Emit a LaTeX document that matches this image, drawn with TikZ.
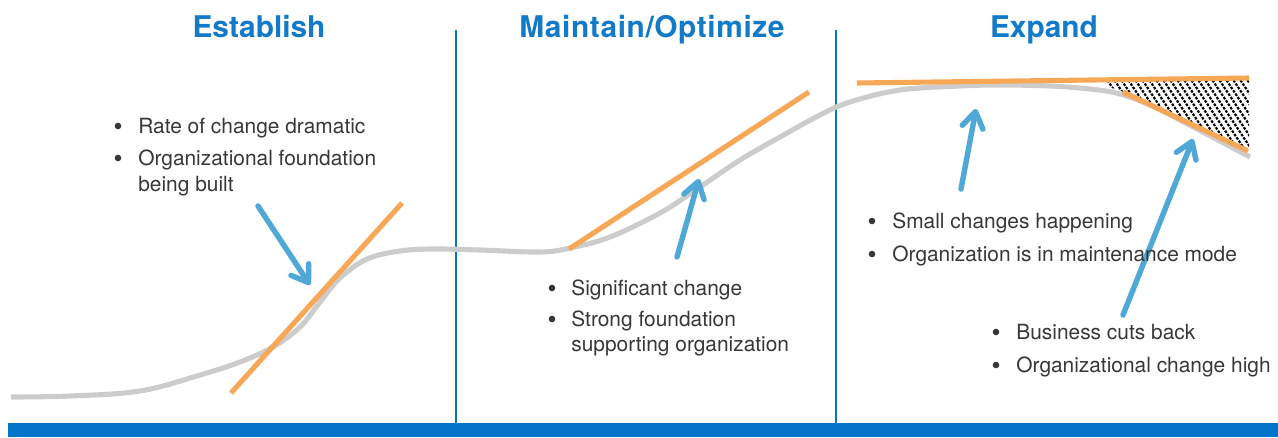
\documentclass[tikz,border=0pt]{standalone}
\usepackage{fontspec}
\setmainfont{TeX Gyre Heros}
\usetikzlibrary{arrows.meta}
\definecolor{barblue}{RGB}{0,117,201}
\definecolor{titleblue}{RGB}{18,122,200}
\definecolor{arrowblue}{RGB}{79,168,214}
\definecolor{orangeline}{RGB}{247,168,87}
\definecolor{curvegray}{RGB}{204,204,204}
\definecolor{txtgray}{RGB}{55,55,55}
\tikzset{
  title/.style={font=\fontsize{17pt}{20pt}\selectfont\bfseries, text=titleblue, anchor=base, inner sep=0pt},
  txt/.style={font=\fontsize{11.9pt}{14.6pt}\selectfont, text=txtgray, anchor=base west, inner sep=0pt, align=left},
  bul/.style={fill=txtgray, draw=none},
  divider/.style={barblue, line width=1.2pt},
  tangent/.style={orangeline, line width=2.9pt},
  pointer/.style={arrowblue, line width=3.1pt, line cap=round, -{Straight Barb[length=9pt,width=12pt,round]}},
  hatchline/.style={black, line width=1.25pt, dash pattern=on 1.5pt off 0.8pt},
}
\begin{document}
\begin{tikzpicture}[x=0.02cm, y=-0.02cm]
\useasboundingbox (0,0) rectangle (1278,437);
% bottom bar
\fill[barblue] (8,423) rectangle (1278,437);
% dividers
\draw[divider] (456,30) -- (456,423);
\draw[divider] (836,30) -- (836,423);
% titles
\node[title] (t1) at (259,37) {Establish};
\node[title] (t2) at (652,37) {\addfontfeature{LetterSpace=2}Maintain/Optimize};
\node[title] (t3) at (1044,37) {Expand};
% hatched area
\begin{scope}
  \clip (1105,81) -- (1249,78) -- (1249,151) -- (1124,92) -- (1112,88) -- cycle;
  \foreach \i in {940,947,...,1260} {
    \draw[hatchline] (\i,60) -- ++(80,120);
  }
\end{scope}
% gray curve
\draw[curvegray, line width=2.9pt, line cap=butt] plot[smooth, tension=0.6] coordinates {
  (11,397) (70,396) (140,391) (200,375) (240,362) (273,347) (300,327) (320,302)
  (340,278) (367,259) (400,251) (433,249) (480,250) (540,252) (570,248) (610,237)
  (660,213) (700,187) (740,160) (780,137) (820,115) (850,102) (900,90) (960,86)
  (1000,85) (1050,86) (1090,89) (1120,94) (1150,105) (1180,120) (1250,157)};
% tangent lines
\coordinate (o1a) at (231,393); \coordinate (o1b) at (402,203);
\coordinate (o2a) at (569,249); \coordinate (o2b) at (809,92);
\coordinate (o3a) at (857,83);  \coordinate (o3b) at (1249,78);
\coordinate (o4a) at (1123,92); \coordinate (o4b) at (1248,151);
\draw[tangent] (o1a) -- (o1b);
\draw[tangent] (o2a) -- (o2b);
\draw[tangent] (o3a) -- (o3b);
\draw[tangent] (o4a) -- (o4b);
% arrows
\coordinate (a1s) at (258,206); \coordinate (a1e) at (310,285);
\coordinate (a2s) at (677,257); \coordinate (a2e) at (699,179);
\coordinate (a3s) at (961,189); \coordinate (a3e) at (976,109);
\coordinate (a4s) at (1123,315); \coordinate (a4e) at (1193,139);
\draw[pointer] (a1s) -- (a1e);
\draw[pointer] (a2s) -- (a2e);
\draw[pointer] (a3s) -- (a3e);
\draw[pointer] (a4s) -- (a4e);
% left text
\fill[bul] (118,126) circle (3.3);
\fill[bul] (118,158) circle (3.3);
\node[txt] (l1) at (138,133) {Rate of change dramatic};
\node[txt] (l2) at (138,165) {Organizational foundation};
\node[txt] (l3) at (138,191) {being built};
% middle text
\fill[bul] (552,288) circle (3.3);
\fill[bul] (552,319) circle (3.3);
\node[txt] (m1) at (571,295) {Significant change};
\node[txt] (m2) at (571,326) {Strong foundation};
\node[txt] (m3) at (571,351) {supporting organization};
% right top text
\fill[bul] (872,221) circle (3.3);
\fill[bul] (872,254) circle (3.3);
\node[txt] (r1) at (892,228) {Small changes happening};
\node[txt] (r2) at (892,261) {Organization is in maintenance mode};
% right bottom text
\fill[bul] (996,332) circle (3.3);
\fill[bul] (996,365) circle (3.3);
\node[txt] (b1) at (1016,339) {Business cuts back};
\node[txt] (b2) at (1016,372) {Organizational change high};
\end{tikzpicture}
\end{document}
